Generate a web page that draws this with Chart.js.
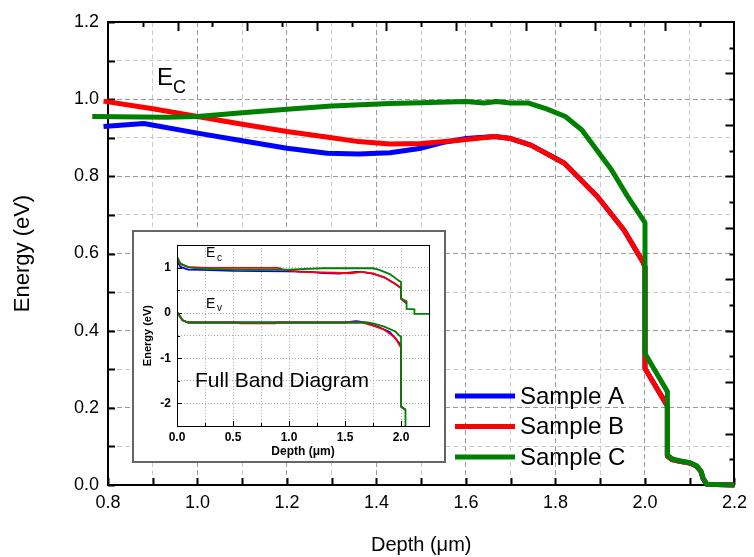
<!DOCTYPE html>
<html>
<head>
<meta charset="utf-8">
<script src="https://cdn.jsdelivr.net/npm/chart.js@4.4.0/dist/chart.umd.min.js"></script>
<style>
  body { margin: 0; background: #fff; }
  #wrap { position: relative; width: 754px; height: 557px; }
  #main { position: absolute; left: 0; top: 0; }
  #insetBox { position: absolute; left: 132px; top: 230px; width: 310px; height: 229px; border: 2px solid #666; background: #fff; }
  #inset { display: block; }
</style>
</head>
<body>
<div id="wrap">
  <canvas id="main" width="754" height="557"></canvas>
  <div id="insetBox"><canvas id="inset" width="310" height="229"></canvas></div>
</div>
<script>
// main plot: conduction band edge, 0.8 - 2.2 um
const depthA  = [0.79, 0.88, 1.0, 1.1, 1.2, 1.29, 1.36, 1.43, 1.5, 1.55, 1.6, 1.664, 1.7, 1.745, 1.82, 1.894, 1.953, 1.995, 2.0, 2.0, 2.05, 2.05, 2.06, 2.08, 2.1, 2.115, 2.125, 2.13, 2.138, 2.2];
const energyA = [0.929, 0.937, 0.912, 0.892, 0.873, 0.860, 0.858, 0.861, 0.873, 0.888, 0.898, 0.903, 0.898, 0.881, 0.834, 0.747, 0.661, 0.579, 0.565, 0.302, 0.205, 0.075, 0.066, 0.061, 0.057, 0.049, 0.035, 0.016, 0.002, 0.0];

const depthB  = [0.79, 0.9, 1.0, 1.1, 1.2, 1.3, 1.36, 1.43, 1.5, 1.58, 1.664, 1.7, 1.745, 1.82, 1.894, 1.953, 1.995, 2.0, 2.0, 2.05, 2.05, 2.06, 2.08, 2.1, 2.115, 2.125, 2.13, 2.138, 2.2];
const energyB = [0.995, 0.975, 0.955, 0.935, 0.916, 0.900, 0.890, 0.884, 0.885, 0.893, 0.903, 0.898, 0.881, 0.834, 0.747, 0.661, 0.579, 0.565, 0.302, 0.205, 0.075, 0.066, 0.061, 0.057, 0.049, 0.035, 0.016, 0.002, 0.0];

const depthC  = [0.765, 0.93, 1.0, 1.1, 1.2, 1.3, 1.43, 1.5, 1.6, 1.64, 1.668, 1.7, 1.74, 1.78, 1.822, 1.859, 1.925, 1.961, 2.0, 2.0, 2.05, 2.05, 2.06, 2.08, 2.1, 2.115, 2.125, 2.13, 2.138, 2.2];
const energyC = [0.955, 0.953, 0.955, 0.965, 0.974, 0.982, 0.989, 0.991, 0.994, 0.990, 0.994, 0.990, 0.990, 0.975, 0.955, 0.920, 0.817, 0.748, 0.680, 0.341, 0.242, 0.078, 0.068, 0.062, 0.058, 0.050, 0.036, 0.017, 0.002, 0.0];

const sampleNames = ['Sample A', 'Sample B', 'Sample C'];
const sampleColors = ['#0000ff', '#ff0000', '#008000'];

// inset: full band diagram (Ec and Ev), 0 - 2.25 um
const insetDepthEcA = [0, 0.03, 0.1, 0.3, 0.5, 1.0, 1.2, 1.3, 1.45, 1.6, 1.65, 1.75, 1.85, 1.95, 1.99, 2.0, 2.0, 2.05];
const insetEcA      = [1.15, 1.02, 0.96, 0.95, 0.93, 0.92, 0.91, 0.88, 0.87, 0.91, 0.91, 0.87, 0.79, 0.64, 0.57, 0.55, 0.32, 0.21];
const insetDepthEcB = [0, 0.03, 0.1, 0.25, 0.9, 0.95, 1.1, 1.4, 1.55, 1.65, 1.75, 1.85, 1.95, 1.99, 2.0, 2.0, 2.05];
const insetEcB      = [1.22, 1.08, 1.02, 1.0, 1.0, 0.96, 0.91, 0.89, 0.88, 0.91, 0.87, 0.79, 0.64, 0.57, 0.55, 0.32, 0.21];
const insetDepthEcC = [0, 0.03, 0.1, 0.2, 0.5, 1.0, 1.3, 1.75, 1.8, 1.9, 1.99, 2.0, 2.0, 2.05, 2.05, 2.12, 2.12, 2.25];
const insetEcC      = [1.25, 1.1, 1.01, 0.98, 0.96, 0.96, 0.99, 0.99, 0.96, 0.86, 0.70, 0.69, 0.32, 0.26, 0.09, 0.08, -0.02, -0.02];

const insetDepthEvA = [0, 0.05, 0.1, 1.5, 1.6, 1.68, 1.8, 1.9, 1.99, 2.0, 2.0, 2.04];
const insetEvA      = [0.02, -0.16, -0.21, -0.21, -0.18, -0.21, -0.31, -0.42, -0.68, -0.70, -2.07, -2.14];
const insetDepthEvB = [0, 0.05, 0.1, 0.55, 0.56, 0.88, 0.89, 1.65, 1.75, 1.85, 1.95, 1.99, 2.0, 2.0, 2.04];
const insetEvB      = [0.02, -0.16, -0.21, -0.21, -0.23, -0.23, -0.21, -0.21, -0.28, -0.37, -0.55, -0.73, -0.75, -2.07, -2.14];
const insetDepthEvC = [0, 0.05, 0.1, 1.7, 1.75, 1.85, 1.95, 1.99, 2.0, 2.0, 2.04, 2.04];
const insetEvC      = [0.02, -0.16, -0.21, -0.21, -0.23, -0.30, -0.41, -0.51, -0.52, -2.07, -2.14, -2.7];

const FONT = '"Liberation Sans", Arial, sans-serif';
const pts = (xs, ys) => xs.map((x, i) => ({ x, y: ys[i] }));
const even = (v, per) => Math.round(v * per) % 2 === 0;

// ticks drawn inward from the plot edges
function insideTicks(axes, width) {
  return {
    id: 'insideTicks',
    beforeDatasetsDraw(chart) {
      const ctx = chart.ctx, a = chart.chartArea;
      ctx.save();
      ctx.strokeStyle = '#000';
      ctx.lineWidth = width;
      axes.forEach(ax => {
        const scale = chart.scales[ax.id];
        scale.ticks.forEach(t => {
          const len = ax.len(t.value);
          if (!len) return;
          const p = Math.round(scale.getPixelForValue(t.value)) + 0.5;
          ctx.beginPath();
          if (ax.side === 'bottom') { ctx.moveTo(p, a.bottom); ctx.lineTo(p, a.bottom - len); }
          if (ax.side === 'top') { ctx.moveTo(p, a.top); ctx.lineTo(p, a.top + len); }
          if (ax.side === 'left') { ctx.moveTo(a.left, p); ctx.lineTo(a.left + len, p); }
          if (ax.side === 'right') { ctx.moveTo(a.right, p); ctx.lineTo(a.right - len, p); }
          ctx.stroke();
        });
      });
      ctx.restore();
    }
  };
}

const mainLabels = {
  id: 'mainLabels',
  afterDatasetsDraw(chart) {
    const ctx = chart.ctx;
    ctx.save();
    ctx.fillStyle = '#000';
    ctx.textBaseline = 'alphabetic';
    ctx.font = '24px ' + FONT;
    ctx.fillText('E', 157, 85);
    ctx.font = '18px ' + FONT;
    ctx.fillText('C', 173, 93);
    // legend
    sampleNames.forEach((name, i) => {
      const y = 396 + i * 30.5;
      ctx.strokeStyle = sampleColors[i];
      ctx.lineWidth = 5;
      ctx.beginPath();
      ctx.moveTo(455, y);
      ctx.lineTo(515, y);
      ctx.stroke();
      ctx.fillStyle = '#000';
      ctx.font = '24px ' + FONT;
      ctx.textBaseline = 'middle';
      ctx.fillText(name, 520, y + 1);
    });
    ctx.restore();
  }
};

const hiddenAxis = (position, fit) => ({
  type: 'linear', position, min: 0, max: 18,
  ticks: { display: false, stepSize: 1 },
  grid: { drawOnChartArea: false, drawTicks: false },
  border: { color: '#000', width: 2 },
  afterFit: fit
});

new Chart(document.getElementById('main'), {
  type: 'line',
  data: {
    datasets: [
      { label: sampleNames[0], data: pts(depthA, energyA), borderColor: sampleColors[0], order: 3, clip: false },
      { label: sampleNames[1], data: pts(depthB, energyB), borderColor: sampleColors[1], order: 2, clip: false },
      { label: sampleNames[2], data: pts(depthC, energyC), borderColor: sampleColors[2], order: 1, clip: false }
    ]
  },
  options: {
    responsive: false,
    animation: false,
    devicePixelRatio: 1,
    layout: { padding: { top: 22, right: 16, left: 0, bottom: 0 } },
    elements: {
      point: { radius: 0 },
      line: { borderWidth: 5, tension: 0, borderJoinStyle: 'round', fill: false }
    },
    plugins: { legend: { display: false }, tooltip: { enabled: false } },
    scales: {
      x: {
        type: 'linear', position: 'bottom', min: 0.8, max: 2.2,
        ticks: {
          stepSize: 0.1, autoSkip: false, maxRotation: 0, padding: 7, color: '#000',
          font: { family: FONT, size: 18 },
          callback: v => even(v, 10) ? v.toFixed(1) : ''
        },
        grid: { drawTicks: false, color: c => even(c.tick.value, 10) ? '#999' : '#ccc', lineWidth: 1 },
        border: { color: '#000', width: 2, dash: [5, 3] },
        title: { display: true, text: 'Depth (μm)', color: '#000', font: { family: FONT, size: 20 }, padding: { top: 0, bottom: 0 } },
        afterFit: s => { s.height = 72; }
      },
      y: {
        type: 'linear', position: 'left', min: 0, max: 1.2,
        ticks: {
          stepSize: 0.1, autoSkip: false, padding: 9, color: '#000',
          font: { family: FONT, size: 18 },
          callback: v => even(v, 10) ? v.toFixed(1) : ''
        },
        grid: { drawTicks: false, color: c => even(c.tick.value, 10) ? '#999' : '#ccc', lineWidth: 1 },
        border: { color: '#000', width: 2, dash: [5, 3] },
        title: { display: true, text: 'Energy (eV)', color: '#000', font: { family: FONT, size: 22 }, padding: { top: 10, bottom: 0 } },
        afterFit: s => { s.width = 108; }
      },
      x2: hiddenAxis('top', s => { s.height = 0; }),
      y2: hiddenAxis('right', s => { s.width = 0; })
    }
  },
  plugins: [
    insideTicks([
      { id: 'x', side: 'bottom', len: () => 7 },
      { id: 'y', side: 'left', len: () => 7 },
      { id: 'x2', side: 'top', len: v => (v === 0 || v === 18) ? 0 : (v % 2 === 0 ? 9 : 5) },
      { id: 'y2', side: 'right', len: v => (v === 0 || v === 18) ? 0 : (v % 2 === 0 ? 9 : 5) }
    ], 2),
    mainLabels
  ]
});

const insetLabels = {
  id: 'insetLabels',
  afterDatasetsDraw(chart) {
    const ctx = chart.ctx, a = chart.chartArea;
    ctx.save();
    ctx.strokeStyle = '#000';
    ctx.lineWidth = 1;
    ctx.strokeRect(Math.round(a.left) + 0.5, Math.round(a.top) + 0.5, Math.round(a.right - a.left), Math.round(a.bottom - a.top));
    ctx.fillStyle = '#000';
    ctx.textBaseline = 'alphabetic';
    ctx.font = '14px ' + FONT;
    ctx.fillText('E', 72, 25);
    ctx.fillText('E', 72, 76);
    ctx.font = '10px ' + FONT;
    ctx.fillText('c', 83, 29);
    ctx.fillText('v', 83, 79);
    ctx.font = '21px ' + FONT;
    ctx.fillText('Full Band Diagram', 61, 155);
    ctx.restore();
  }
};

const insetSets = [
  [insetDepthEcA, insetEcA, 0, 6], [insetDepthEvA, insetEvA, 0, 5],
  [insetDepthEcB, insetEcB, 1, 4], [insetDepthEvB, insetEvB, 1, 3],
  [insetDepthEcC, insetEcC, 2, 2], [insetDepthEvC, insetEvC, 2, 1]
];

new Chart(document.getElementById('inset'), {
  type: 'line',
  data: {
    datasets: insetSets.map(([xs, ys, k, ord]) => ({
      data: pts(xs, ys), borderColor: sampleColors[k], order: ord
    }))
  },
  options: {
    responsive: false,
    animation: false,
    devicePixelRatio: 1,
    layout: { padding: { top: 8, right: 15, left: 0, bottom: 0 } },
    elements: {
      point: { radius: 0 },
      line: { borderWidth: 1.8, tension: 0, fill: false }
    },
    plugins: { legend: { display: false }, tooltip: { enabled: false } },
    scales: {
      x: {
        type: 'linear', min: 0, max: 2.25,
        ticks: {
          stepSize: 0.25, autoSkip: false, maxRotation: 0, padding: 4, color: '#000',
          font: { family: FONT, size: 12, weight: 'bold' },
          callback: v => even(v, 4) ? v.toFixed(1) : ''
        },
        grid: { drawTicks: false, color: '#aaa', lineWidth: 1 },
        border: { color: '#000', width: 1, dash: [1, 2] },
        title: { display: true, text: 'Depth (μm)', color: '#000', font: { family: FONT, size: 12, weight: 'bold' }, padding: { top: 0, bottom: 2 } },
        afterFit: s => { s.height = 35; }
      },
      y: {
        type: 'linear', min: -2.5, max: 1.5,
        ticks: {
          stepSize: 0.5, autoSkip: false, padding: 6, color: '#000',
          font: { family: FONT, size: 12, weight: 'bold' },
          callback: v => Number.isInteger(v) ? String(v) : ''
        },
        grid: { drawTicks: false, color: '#aaa', lineWidth: 1 },
        border: { color: '#000', width: 1, dash: [1, 2] },
        title: { display: true, text: 'Energy (eV)', color: '#000', font: { family: FONT, size: 11, weight: 'bold' }, padding: { top: 7, bottom: 0 } },
        afterFit: s => { s.width = 43; }
      }
    }
  },
  plugins: [
    insideTicks([
      { id: 'x', side: 'bottom', len: v => even(v, 4) ? 5 : 3 },
      { id: 'y', side: 'left', len: v => Number.isInteger(v) ? 5 : 3 }
    ], 1),
    insetLabels
  ]
});
</script>
</body>
</html>
